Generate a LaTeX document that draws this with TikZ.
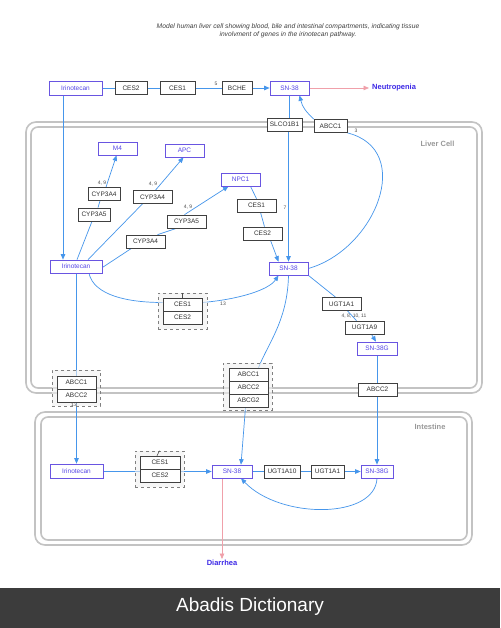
\documentclass[tikz,border=0pt]{standalone}
\usepackage{fontspec}
\setmainfont{Liberation Sans}
\usetikzlibrary{arrows.meta}
\definecolor{lnblue}{RGB}{70,150,235}
\definecolor{cpd}{RGB}{105,85,225}
\definecolor{cpdtext}{RGB}{85,70,230}
\definecolor{pinkln}{RGB}{240,160,170}
\definecolor{membr}{RGB}{195,195,195}
\definecolor{genetext}{RGB}{50,50,50}
\definecolor{banner}{RGB}{60,60,60}
\definecolor{outc}{RGB}{60,40,230}
\pgfdeclarelayer{background}
\pgfsetlayers{background,main}
\begin{document}
\begin{tikzpicture}[x=1pt,y=-1pt,
 gene/.style={draw=black!75, line width=0.7pt, fill=white, minimum height=13pt, inner sep=0pt, font=\fontsize{6.5}{7}\selectfont, text=genetext},
 cpdnode/.style={draw=cpd, line width=0.7pt, fill=white, minimum height=14pt, inner sep=0pt, font=\fontsize{6.5}{7}\selectfont, text=cpdtext},
 conn/.style={draw=lnblue, line width=0.7pt},
 arr/.style={conn, -{Triangle[length=5.5pt,width=4.5pt]}},
 parr/.style={draw=pinkln, line width=0.7pt, -{Triangle[length=5.5pt,width=4.5pt]}},
 num/.style={font=\fontsize{5}{5}\selectfont, text=black!70, inner sep=0pt},
 grp/.style={draw=black!50, dashed, line width=0.5pt, fill=black!6, fill opacity=0.6, inner sep=0pt},
 membrane/.style={draw=membr, line width=1.6pt},
 comp/.style={font=\bfseries\fontsize{7.5}{8}\selectfont, text=black!40},
 outcome/.style={font=\bfseries\fontsize{7.5}{8}\selectfont, text=outc, inner sep=0pt}
]
\useasboundingbox (0,0) rectangle (500,628);

% title
\node[align=center, font=\itshape\fontsize{6.7}{8}\selectfont, text=black!75] (title) at (288,31)
 {Model human liver cell showing blood, bile and intestinal compartments, indicating tissue\\involvment of genes in the irinotecan pathway.};

% compartment labels
\node[comp] (liverlbl) at (437.5,144) {Liver Cell};
\node[comp] (intlbl) at (430,427) {Intestine};

% top row (blood)
\node[cpdnode, minimum width=53pt] (irA) at (75.5,88) {Irinotecan};
\node[gene, minimum width=32pt] (ces2A) at (131,88) {CES2};
\node[gene, minimum width=35pt] (ces1A) at (177.5,88) {CES1};
\node[gene, minimum width=30pt] (bche) at (237,88) {BCHE};
\node[cpdnode, minimum width=39pt] (snA) at (289.5,88) {SN-38};
\node[outcome, anchor=west] (neut) at (372,88) {Neutropenia};

% membrane transporters top
\node[gene, minimum width=35pt] (slco) at (284.5,124.5) {SLCO1B1};
\node[gene, minimum width=33pt] (abcc1T) at (330.5,126) {ABCC1};

% liver
\node[cpdnode, minimum width=39pt, minimum height=13pt] (m4) at (117.5,148.5) {M4};
\node[cpdnode, minimum width=39pt, minimum height=13pt] (apc) at (184.5,150.5) {APC};
\node[cpdnode, minimum width=39pt, minimum height=13pt] (npc1) at (240.5,179.5) {NPC1};
\node[gene, minimum width=32pt] (cypL4) at (104,194) {CYP3A4};
\node[gene, minimum width=32pt] (cypL5) at (94,214.5) {CYP3A5};
\node[gene, minimum width=39pt] (cypM4) at (152.5,197) {CYP3A4};
\node[gene, minimum width=39pt] (cypR5) at (186.5,221.5) {CYP3A5};
\node[gene, minimum width=39pt] (cypB4) at (145.5,241.5) {CYP3A4};
\node[cpdnode, minimum width=52pt, minimum height=13pt] (irL) at (76,266.5) {Irinotecan};
\node[gene, minimum width=39pt] (cesN1) at (256.5,205.5) {CES1};
\node[gene, minimum width=39pt] (cesN2) at (262.5,233.5) {CES2};
\node[cpdnode, minimum width=39pt, minimum height=13pt] (snL) at (288.5,268.5) {SN-38};
\node[gene, minimum width=39pt] (ugt1) at (341.5,304) {UGT1A1};
\node[gene, minimum width=39pt] (ugt9) at (364.5,327.5) {UGT1A9};
\node[cpdnode, minimum width=40pt, minimum height=13pt] (sngL) at (377,348.5) {SN-38G};
\node[gene, minimum width=39pt] (abcc2R) at (377.5,389.5) {ABCC2};

% groups
\node[grp, minimum width=49pt, minimum height=36pt] (gCesL) at (182.5,311) {};
\node[gene, minimum width=39pt] (cesL1) at (182.5,304.5) {CES1};
\node[gene, minimum width=39pt] (cesL2) at (182.5,317.5) {CES2};
\draw[black!70, line width=0.6pt] (gCesL.north) -- (cesL1.north);

\node[grp, minimum width=48pt, minimum height=36pt] (gAbcL) at (76,388) {};
\node[gene, minimum width=39pt] (abL1) at (76.5,382.5) {ABCC1};
\node[gene, minimum width=39pt] (abL2) at (76.5,395.5) {ABCC2};

\node[grp, minimum width=49pt, minimum height=47pt] (gAbcM) at (247.5,386.5) {};
\node[gene, minimum width=39pt] (abM1) at (248.5,374.5) {ABCC1};
\node[gene, minimum width=39pt] (abM2) at (248.5,387.5) {ABCC2};
\node[gene, minimum width=39pt] (abM3) at (248.5,400.5) {ABCG2};

% intestine
\node[cpdnode, minimum width=53pt] (irI) at (76.5,471) {Irinotecan};
\node[grp, minimum width=49pt, minimum height=36pt] (gCesI) at (159.5,469) {};
\node[gene, minimum width=40pt] (cesI1) at (160,462.5) {CES1};
\node[gene, minimum width=40pt] (cesI2) at (160,475.5) {CES2};
\draw[black!70, line width=0.6pt] ([xshift=-3pt]cesI1.north) -- (gCesI.north);
\node[cpdnode, minimum width=40pt, minimum height=13pt] (snI) at (232,471.5) {SN-38};
\node[gene, minimum width=36pt] (ugt10) at (282,471.5) {UGT1A10};
\node[gene, minimum width=33pt] (ugt1I) at (327.5,471.5) {UGT1A1};
\node[cpdnode, minimum width=32pt, minimum height=13pt] (sngI) at (377,471.5) {SN-38G};
\node[outcome] (diar) at (222,563) {Diarrhea};

% number labels
\node[num] (n5) at (216,84) {5};
\node[num] (n3) at (356,131) {3};
\node[num] (n7) at (285,208) {7};
\node[num] (n49a) at (102,183) {4, 9};
\node[num] (n49b) at (153,184) {4, 9};
\node[num] (n49c) at (188,207) {4, 9};
\node[num] (n13a) at (223,304) {13};
\node[num] (n13b) at (74,404.5) {13};
\node[num] (nugt) at (354,316) {4, 8, 10, 11};

% banner
\fill[banner] (0,588) rectangle (500,628);
\node[text=white, font=\fontsize{19}{20}\selectfont] (brand) at (250,607) {Abadis Dictionary};

\begin{pgfonlayer}{background}
\fill[white] (0,0) rectangle (500,588);
% membranes
\draw[membrane, rounded corners=10pt] (26,122) rectangle (482,393);
\draw[membrane, rounded corners=7pt] (31,127) rectangle (477,388);
\draw[membrane, rounded corners=10pt] (35,412) rectangle (472,545);
\draw[membrane, rounded corners=7pt] (41,417) rectangle (467,540);

% top row
\draw[conn] (irA) -- (ces2A);
\draw[conn] (ces2A) -- (ces1A);
\draw[conn] (ces1A) -- (bche);
\draw[arr] (bche) -- (snA);
\draw[parr, shorten >=3pt] (snA) -- (neut.west);
\draw[arr] ([xshift=-12.5pt]irA.south) -- ([xshift=-13pt]irL.north);

% uptake / efflux
\draw[conn] (snA.south) -- (snA.south |- slco.north);
\draw[arr] (slco.south -| snL.north) -- (snL.north);
\draw[arr] (abcc1T.north west) .. controls +(-8,-8) and +(3,12) .. ([xshift=10pt]snA.south);
\draw[conn] (snL.east) .. controls +(67,-19) and +(68,17) .. (abcc1T.south east);

% CYP chains
\draw[conn] ([xshift=1pt]irL.north) -- ([xshift=-2pt]cypL5.south);
\draw[conn] ([xshift=4pt]cypL5.north) -- ([xshift=-4pt]cypL4.south);
\draw[arr] ([xshift=2pt]cypL4.north) -- ([xshift=-1pt]m4.south);
\draw[conn] ([xshift=12pt]irL.north) -- ([xshift=-10pt]cypM4.south);
\draw[arr] ([xshift=3pt]cypM4.north) -- ([xshift=-1pt]apc.south);
\draw[conn] ([yshift=-1pt]irL.east) -- ([xshift=-14pt]cypB4.south);
\draw[conn] ([xshift=12pt]cypB4.north) -- ([xshift=-10pt]cypR5.south);
\draw[arr] ([xshift=-2pt]cypR5.north) -- ([xshift=-12pt]npc1.south);

% NPC1 -> SN-38
\draw[conn] ([xshift=10pt]npc1.south) -- (cesN1.north);
\draw[conn] ([xshift=4pt]cesN1.south) -- ([xshift=2pt]cesN2.north);
\draw[arr] ([xshift=8pt]cesN2.south) -- ([xshift=-10pt]snL.north);

% CES in liver
\draw[conn] ([xshift=13pt]irL.south) .. controls +(5,22) and +(-35,0) .. ([yshift=2pt]cesL1.west);
\draw[arr] ([yshift=2pt]cesL1.east) .. controls +(35,-3) and +(-10,15) .. ([xshift=-10pt]snL.south);

% SN-38 to bile/intestine
\draw[conn] (snL.south) .. controls +(-1,45) and +(10,-25) .. ([xshift=10pt]abM1.north);
\draw[arr] ([xshift=-3pt]abM3.south) -- ([xshift=9pt]snI.north);

% glucuronidation
\draw[conn] (snL.south east) -- ([xshift=-6pt]ugt1.north);
\draw[conn] ([xshift=6pt]ugt1.south) -- ([xshift=-8pt]ugt9.north);
\draw[arr] ([xshift=7pt]ugt9.south) -- ([xshift=-1pt]sngL.north);
\draw[conn] (sngL.south) -- (sngL.south |- abcc2R.north);
\draw[arr] (abcc2R.south -| sngI.north) -- (sngI.north);

% irinotecan to intestine
\draw[conn] (irL.south) -- (irL.south |- abL1.north);
\draw[arr] (abL2.south -| irI.north) -- (irI.north);

% intestine
\draw[conn] (irI.east) -- (irI.east -| cesI2.west);
\draw[arr] (snI.west -| cesI2.east) -- (snI.west);
\draw[conn] (snI) -- (ugt10);
\draw[conn] (ugt10) -- (ugt1I);
\draw[arr] (ugt1I) -- (sngI);
\draw[arr] (sngI.south) .. controls +(-2,41) and +(39,41) .. ([xshift=9pt]snI.south);
\draw[parr, shorten >=1pt] ([xshift=-10pt]snI.south) -- (diar.north);
\end{pgfonlayer}
\end{tikzpicture}
\end{document}
